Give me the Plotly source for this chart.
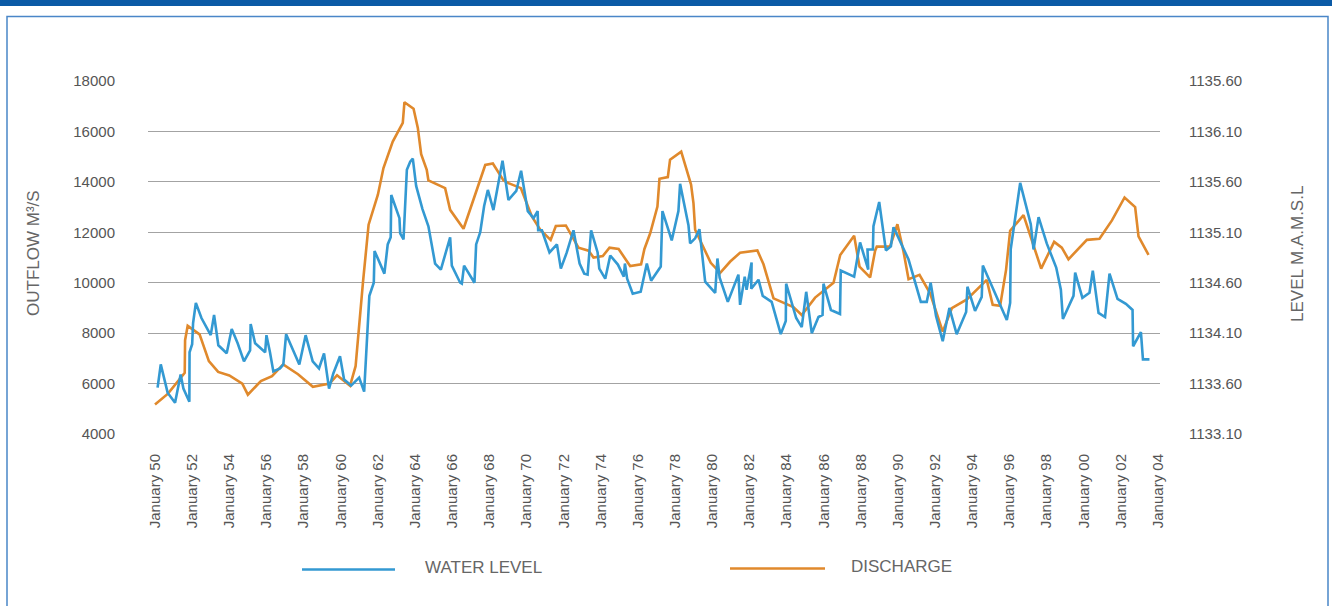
import plotly.graph_objects as go

# ---------------- data ----------------
discharge_year = [1950.0, 1950.7, 1951.6, 1951.62, 1951.76, 1952.4, 1952.9, 1953.4, 1954.0, 1954.7,
                  1955.0, 1955.7, 1956.3, 1956.9, 1957.7, 1958.5, 1959.4, 1959.8, 1960.5, 1960.8,
                  1961.2, 1961.5, 1962.0, 1962.3, 1962.8, 1963.34, 1963.43, 1963.92, 1964.15, 1964.33,
                  1964.63, 1964.72, 1965.62, 1965.89, 1966.61, 1967.78, 1968.19, 1968.76, 1969.03, 1969.39,
                  1969.7, 1970.29, 1970.74, 1971.3, 1971.58, 1972.12, 1972.8, 1973.34, 1973.61, 1974.11,
                  1974.47, 1974.96, 1975.58, 1976.17, 1976.35, 1976.66, 1977.05, 1977.16, 1977.61, 1977.73,
                  1978.33, 1978.86, 1978.99, 1979.08, 1979.53, 1979.92, 1980.43, 1980.97, 1981.5, 1982.43,
                  1982.76, 1983.3, 1984.37, 1984.82, 1985.54, 1986.53, 1986.89, 1987.64, 1987.93, 1988.5,
                  1988.77, 1988.86, 1989.57, 1989.97, 1990.3, 1990.57, 1991.16, 1991.73, 1992.41, 1992.9,
                  1993.71, 1994.78, 1995.1, 1995.5, 1995.82, 1996.04, 1996.76, 1997.3, 1997.71, 1998.41,
                  1998.82, 1999.18, 2000.17, 2000.85, 2001.52, 2002.2, 2002.77, 2002.95, 2003.49]
discharge_m3s = [5170, 5600, 6430, 7720, 8290, 7950, 6890, 6460, 6320, 6000,
                 5560, 6100, 6290, 6760, 6370, 5870, 6000, 6330, 5910, 6690,
                 10040, 12300, 13490, 14550, 15600, 16340, 17160, 16900, 16140, 15100,
                 14480, 14060, 13750, 12890, 12140, 14670, 14730, 14060, 13950, 13850,
                 13750, 12630, 12100, 11700, 12250, 12270, 11390, 11270, 11000, 11060,
                 11390, 11340, 10660, 10730, 11340, 11960, 13020, 14120, 14190, 14880,
                 15200, 13890, 13160, 12100, 11430, 10790, 10390, 10840, 11190, 11280,
                 10730, 9380, 9030, 8720, 9410, 10000, 11100, 11860, 10640, 10210,
                 11270, 11430, 11430, 12320, 11230, 10140, 10310, 9580, 8060, 8990,
                 9340, 10110, 9120, 9080, 10510, 12060, 12680, 11430, 10560, 11620,
                 11390, 10930, 11700, 11740, 12470, 13380, 13000, 11840, 11100]

level_year = [1950.14, 1950.31, 1950.68, 1951.08, 1951.38, 1951.53, 1951.85, 1951.86, 1952.0, 1952.05,
              1952.2, 1952.5, 1953.0, 1953.18, 1953.41, 1953.86, 1954.13, 1954.45, 1954.79, 1955.12,
              1955.15, 1955.39, 1955.93, 1956.0, 1956.19, 1956.37, 1956.73, 1956.91, 1957.06, 1957.41,
              1957.77, 1958.11, 1958.49, 1958.83, 1959.1, 1959.37, 1959.6, 1959.96, 1960.18, 1960.56,
              1960.99, 1961.26, 1961.54, 1961.78, 1961.82, 1962.35, 1962.53, 1962.69, 1962.72, 1963.16,
              1963.2, 1963.38, 1963.56, 1963.74, 1963.88, 1964.06, 1964.24, 1964.4, 1964.72, 1965.08,
              1965.39, 1965.89, 1965.98, 1966.43, 1966.52, 1966.64, 1967.2, 1967.29, 1967.51, 1967.72,
              1967.92, 1968.22, 1968.71, 1969.03, 1969.45, 1969.71, 1970.07, 1970.38, 1970.6, 1970.63,
              1970.83, 1971.24, 1971.64, 1971.85, 1972.17, 1972.53, 1972.86, 1973.11, 1973.29, 1973.48,
              1973.83, 1973.92, 1974.24, 1974.51, 1974.92, 1975.24, 1975.3, 1975.42, 1975.72, 1976.15,
              1976.48, 1976.71, 1977.23, 1977.32, 1977.82, 1978.18, 1978.27, 1978.72, 1978.81, 1979.08,
              1979.31, 1979.62, 1980.16, 1980.28, 1980.4, 1980.84, 1981.41, 1981.5, 1981.75, 1981.85,
              1982.12, 1982.1, 1982.49, 1982.72, 1983.2, 1983.69, 1983.96, 1983.98, 1984.52, 1984.82,
              1985.06, 1985.36, 1985.72, 1985.94, 1985.99, 1986.39, 1986.88, 1986.92, 1987.64, 1987.96,
              1988.4, 1988.36, 1988.65, 1988.68, 1988.99, 1989.35, 1989.62, 1989.76, 1990.57, 1990.95,
              1991.23, 1991.55, 1991.76, 1992.05, 1992.41, 1992.77, 1993.16, 1993.67, 1993.74, 1994.15,
              1994.51, 1994.57, 1995.2, 1995.86, 1996.04, 1996.07, 1996.58, 1997.15, 1997.3, 1997.57,
              1998.01, 1998.52, 1998.77, 1998.88, 1999.45, 1999.54, 1999.93, 2000.31, 2000.49, 2000.8,
              2001.15, 2001.39, 2001.82, 2002.27, 2002.63, 2002.66, 2003.08, 2003.19, 2003.54]
level_masl = [1133.56, 1133.79, 1133.51, 1133.41, 1133.69, 1133.55, 1133.42, 1133.91, 1133.99, 1134.20,
              1134.40, 1134.25, 1134.08, 1134.28, 1133.98, 1133.90, 1134.14, 1134.00, 1133.82, 1133.93,
              1134.19, 1134.00, 1133.91, 1134.08, 1133.91, 1133.72, 1133.75, 1133.79, 1134.09, 1133.94,
              1133.79, 1134.08, 1133.82, 1133.75, 1133.90, 1133.55, 1133.70, 1133.87, 1133.64, 1133.58,
              1133.66, 1133.52, 1134.47, 1134.60, 1134.915, 1134.69, 1134.98, 1135.05, 1135.47, 1135.24,
              1135.09, 1135.03, 1135.72, 1135.80, 1135.83, 1135.56, 1135.44, 1135.33, 1135.16, 1134.79,
              1134.73, 1135.05, 1134.77, 1134.60, 1134.59, 1134.77, 1134.60, 1134.98, 1135.10, 1135.36,
              1135.52, 1135.32, 1135.81, 1135.42, 1135.51, 1135.71, 1135.31, 1135.24, 1135.31, 1135.12,
              1135.12, 1134.90, 1134.98, 1134.74, 1134.90, 1135.12, 1134.79, 1134.69, 1134.68, 1135.12,
              1134.90, 1134.74, 1134.64, 1134.87, 1134.78, 1134.66, 1134.79, 1134.64, 1134.49, 1134.51,
              1134.79, 1134.62, 1134.76, 1135.31, 1135.02, 1135.31, 1135.58, 1135.17, 1134.99, 1135.04,
              1135.13, 1134.61, 1134.50, 1134.84, 1134.65, 1134.41, 1134.68, 1134.38, 1134.66, 1134.53,
              1134.80, 1134.54, 1134.63, 1134.47, 1134.41, 1134.09, 1134.22, 1134.59, 1134.25, 1134.16,
              1134.51, 1134.10, 1134.26, 1134.28, 1134.59, 1134.33, 1134.29, 1134.72, 1134.66, 1135.00,
              1134.73, 1134.93, 1134.93, 1135.16, 1135.40, 1134.92, 1134.96, 1135.15, 1134.83, 1134.59,
              1134.41, 1134.41, 1134.60, 1134.27, 1134.02, 1134.35, 1134.09, 1134.31, 1134.56, 1134.32,
              1134.46, 1134.77, 1134.50, 1134.23, 1134.40, 1134.93, 1135.59, 1135.18, 1134.93, 1135.25,
              1134.99, 1134.75, 1134.53, 1134.24, 1134.47, 1134.70, 1134.45, 1134.50, 1134.72, 1134.30,
              1134.26, 1134.69, 1134.44, 1134.39, 1134.33, 1133.97, 1134.11, 1133.84, 1133.84]

x_tick_years = list(range(1950, 2005, 2))
x_tick_labels = ["January 50", "January 52", "January 54", "January 56", "January 58", "January 60",
                 "January 62", "January 64", "January 66", "January 68", "January 70", "January 72",
                 "January 74", "January 76", "January 78", "January 80", "January 82", "January 84",
                 "January 86", "January 88", "January 90", "January 92", "January 94", "January 96",
                 "January 98", "January 00", "January 02", "January 04"]
left_tick_vals = [4000, 6000, 8000, 10000, 12000, 14000, 16000, 18000]
left_tick_labels = ["4000", "6000", "8000", "10000", "12000", "14000", "16000", "18000"]
right_tick_vals = [1133.10, 1133.60, 1134.10, 1134.60, 1135.10, 1135.60, 1136.10, 1136.60]
right_tick_labels = ["1133.10", "1133.60", "1134.10", "1134.60", "1135.10", "1135.60", "1136.10", "1135.60"]

# ---------------- style ----------------
BLUE = "#3399d2"
ORANGE = "#e0892c"
W, H = 1332, 606
PL, PR, PT, PB = 148, 1160, 81, 434          # plot area in pixels
FONT = "Liberation Sans, Arial, sans-serif"


def px_x(px):
    return (px - PL) / (PR - PL)


def px_y(py):
    return (PB - py) / (PB - PT)


fig = go.Figure()
fig.add_trace(go.Scatter(x=level_year, y=level_masl, mode="lines", name="WATER LEVEL",
                         line=dict(color=BLUE, width=2.6), yaxis="y2"))
fig.add_trace(go.Scatter(x=discharge_year, y=discharge_m3s, mode="lines", name="DISCHARGE",
                         line=dict(color=ORANGE, width=2.6)))

fig.update_layout(
    width=W, height=H,
    margin=dict(l=PL, r=W - PR, t=PT, b=H - PB),
    paper_bgcolor="white", plot_bgcolor="white",
    showlegend=False,
    font=dict(family=FONT, color="#555555"),
    xaxis=dict(range=[1950 - 7 / 18.57, 2004 + 2 / 18.57], tickmode="array",
               tickvals=x_tick_years, ticktext=x_tick_labels, tickangle=-90,
               showgrid=False, zeroline=False, showline=False, ticks="",
               ticklabelstandoff=16, tickfont=dict(size=15, color="#555555")),
    yaxis=dict(range=[4000, 18000], tickmode="array", tickvals=left_tick_vals,
               ticktext=left_tick_labels,
               showgrid=True, gridcolor="#a3a3a3", gridwidth=1.2, zeroline=False,
               showline=False, ticks="", ticklabelstandoff=32,
               tickfont=dict(size=15, color="#555555")),
    yaxis2=dict(range=[1133.10, 1136.60], overlaying="y", side="right", tickmode="array",
                tickvals=right_tick_vals, ticktext=right_tick_labels, showgrid=False,
                zeroline=False, showline=False, ticks="", ticklabelstandoff=28,
                tickfont=dict(size=15, color="#555555")),
)

shapes = [
    dict(type="rect", xref="paper", yref="paper", x0=px_x(0), x1=px_x(W), y0=px_y(6), y1=px_y(0),
         fillcolor="#0b5aa6", line=dict(width=0), layer="below"),
    dict(type="rect", xref="paper", yref="paper", x0=px_x(7), x1=px_x(1328), y0=px_y(640), y1=px_y(16.5),
         fillcolor="rgba(0,0,0,0)", line=dict(color="#4a86c8", width=1.5), layer="below"),
    dict(type="line", xref="paper", yref="paper", x0=px_x(302), x1=px_x(395), y0=px_y(569.5), y1=px_y(569.5),
         line=dict(color=BLUE, width=2.6)),
    dict(type="line", xref="paper", yref="paper", x0=px_x(730), x1=px_x(825), y0=px_y(568.5), y1=px_y(568.5),
         line=dict(color=ORANGE, width=2.6)),
]
annotations = [
    dict(text="OUTFLOW M³/S", xref="paper", yref="paper", x=px_x(33), y=px_y(253), textangle=-90,
         showarrow=False, font=dict(size=17, color="#666666"), xanchor="center", yanchor="middle"),
    dict(text="LEVEL M.A.M.S.L", xref="paper", yref="paper", x=px_x(1297), y=px_y(254), textangle=-90,
         showarrow=False, font=dict(size=17, color="#666666"), xanchor="center", yanchor="middle"),
    dict(text="WATER LEVEL", xref="paper", yref="paper", x=px_x(423), y=px_y(567), showarrow=False,
         font=dict(size=17, color="#666666"), xanchor="left", yanchor="middle"),
    dict(text="DISCHARGE", xref="paper", yref="paper", x=px_x(849), y=px_y(566), showarrow=False,
         font=dict(size=17, color="#666666"), xanchor="left", yanchor="middle"),
]
fig.update_layout(shapes=shapes, annotations=annotations)

fig.write_html("out.html", config={"displayModeBar": False},
               post_script="document.body.style.margin='0';")
